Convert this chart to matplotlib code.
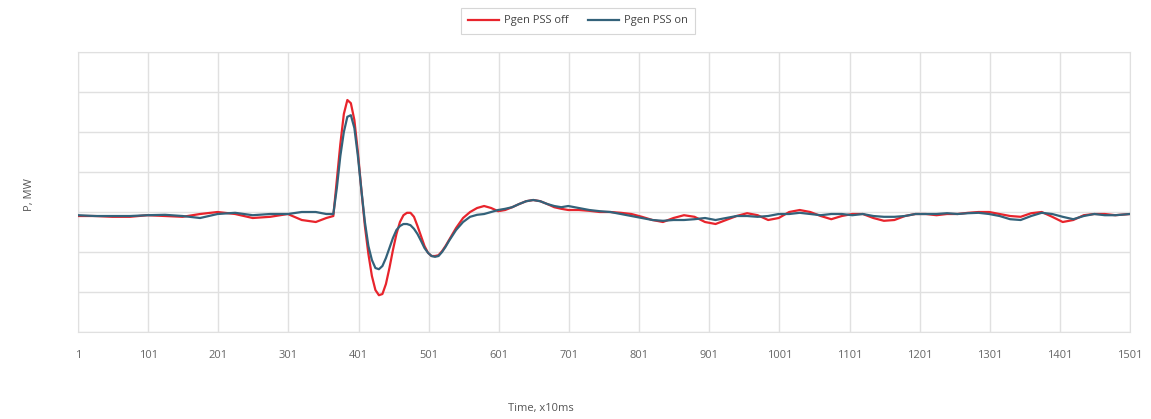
import matplotlib
matplotlib.use('Agg')
import matplotlib.pyplot as plt

# time samples (x10ms)
t = [1, 25, 50, 75, 100, 125, 150, 175, 200, 225, 250, 275, 300, 320, 340,
     355, 365, 370, 375, 380, 385, 390, 395, 400, 405, 410, 415, 420, 425,
     430, 435, 440, 445, 450, 455, 460, 465, 470, 475, 480, 485, 490, 495,
     500, 505, 510, 515, 520, 525, 530, 540, 550, 560, 570, 580, 590, 600,
     610, 620, 630, 640, 650, 660, 670, 680, 690, 700, 715, 730, 745, 760,
     775, 790, 805, 820, 835, 850, 865, 880, 895, 910, 925, 940, 955, 970,
     985, 1000, 1015, 1030, 1045, 1060, 1075, 1090, 1105, 1120, 1135, 1150,
     1165, 1180, 1195, 1210, 1225, 1240, 1255, 1270, 1285, 1300, 1315, 1330,
     1345, 1360, 1375, 1390, 1405, 1420, 1435, 1450, 1465, 1480, 1501]

p_off = [-0.1, -0.1, -0.12, -0.12, -0.08, -0.1, -0.12, -0.05, 0.0, -0.05,
         -0.15, -0.12, -0.05, -0.2, -0.25,
         -0.15, -0.1, 0.8, 1.7, 2.45, 2.8, 2.72, 2.3, 1.5, 0.55, -0.35, -1.05,
         -1.6, -1.95, -2.08, -2.05, -1.8, -1.4, -0.95, -0.55, -0.25, -0.08,
         -0.02, -0.02, -0.12, -0.35, -0.6, -0.85, -1.02, -1.1, -1.1, -1.08,
         -0.98, -0.85, -0.7, -0.4, -0.15, 0.0, 0.1, 0.15, 0.1, 0.02,
         0.05, 0.12, 0.2, 0.27, 0.3, 0.27, 0.2, 0.12, 0.08, 0.05, 0.05, 0.03,
         0.0, 0.0, -0.02, -0.05, -0.12, -0.2, -0.25, -0.15, -0.08, -0.12,
         -0.25, -0.3, -0.2, -0.1, -0.03, -0.08, -0.2, -0.15, 0.0, 0.05, 0.0,
         -0.1, -0.18, -0.1, -0.05, -0.05, -0.15, -0.22, -0.2, -0.1, -0.05,
         -0.05, -0.08, -0.05, -0.05, -0.02, 0.0, 0.0, -0.05, -0.1, -0.12,
         -0.03, 0.0, -0.12, -0.25, -0.2, -0.08, -0.05, -0.05, -0.08, -0.05]

p_on = [-0.08, -0.1, -0.1, -0.1, -0.08, -0.07, -0.1, -0.15, -0.05, -0.02,
        -0.08, -0.05, -0.05, 0.0, 0.0,
        -0.05, -0.05, 0.6, 1.4, 2.0, 2.38, 2.42, 2.1, 1.4, 0.55, -0.25, -0.85,
        -1.2, -1.4, -1.43, -1.35, -1.15, -0.9, -0.65, -0.45, -0.35, -0.3,
        -0.3, -0.33, -0.42, -0.55, -0.72, -0.9, -1.02, -1.1, -1.12, -1.1,
        -1.0, -0.87, -0.72, -0.45, -0.25, -0.12, -0.07, -0.05, 0.0, 0.05,
        0.08, 0.12, 0.2, 0.27, 0.3, 0.27, 0.2, 0.15, 0.12, 0.15, 0.1, 0.05,
        0.02, 0.0, -0.05, -0.1, -0.15, -0.2, -0.22, -0.2, -0.2, -0.18,
        -0.15, -0.2, -0.15, -0.1, -0.1, -0.12, -0.1, -0.05, -0.05, -0.02,
        -0.05, -0.08, -0.05, -0.05, -0.08, -0.05, -0.1, -0.12, -0.12, -0.1,
        -0.05, -0.05, -0.05, -0.03, -0.05, -0.03, -0.02, -0.05, -0.1, -0.18,
        -0.2, -0.1, -0.02, -0.05, -0.12, -0.18, -0.1, -0.05, -0.08, -0.08,
        -0.05]

xticks = list(range(1, 1502, 100))

plt.rcParams['font.family'] = ['Open Sans', 'DejaVu Sans']

fig = plt.figure(figsize=(11.51, 4.19), dpi=100)
ax = fig.add_axes([0.0678, 0.2076, 0.9140, 0.6683])

ax.plot(t, p_off, color='#e8242c', lw=1.6, label='Pgen PSS off', zorder=3)
ax.plot(t, p_on, color='#33627a', lw=1.6, label='Pgen PSS on', zorder=4)

ax.set_xlim(1, 1501)
ax.set_ylim(-3, 4)
ax.set_xticks(xticks)
ax.set_yticks(range(-3, 5))
ax.set_yticklabels([])
ax.tick_params(length=0, labelsize=8, labelcolor='#666666', pad=13)
ax.tick_params(axis='y', pad=0)
ax.grid(True, color='#e0e0e0', lw=1)
ax.set_axisbelow(True)
for s in ax.spines.values():
    s.set_color('#e0e0e0')

fig.text(541 / 1151, 1 - 408 / 419, 'Time, x10ms', ha='center', va='center',
         fontsize=8, color='#555555')
fig.text(30 / 1151, 1 - 195 / 419, 'P, MW', ha='center', va='center',
         rotation=90, fontsize=8, color='#555555')

leg = fig.legend(loc='center', bbox_to_anchor=(578 / 1151, 1 - 21 / 419),
                 ncol=2, fontsize=8, frameon=True, fancybox=False,
                 handlelength=2.8, handletextpad=0.4, columnspacing=1.8,
                 borderpad=0.65, borderaxespad=0)
leg.get_frame().set_edgecolor('#cccccc')
leg.get_frame().set_linewidth(0.8)
for txt in leg.get_texts():
    txt.set_color('#444444')

fig.savefig('out.png', dpi=100)
